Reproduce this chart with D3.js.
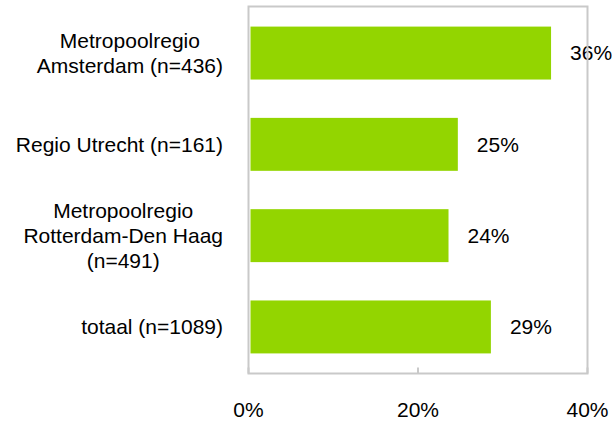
<!DOCTYPE html>
<html>
<head>
<meta charset="utf-8">
<script src="https://cdnjs.cloudflare.com/ajax/libs/d3/7.8.5/d3.min.js"></script>
<style>
  body { margin: 0; background: #fff; }
  svg { display: block; }
  text { font-family: "Liberation Sans", Arial, sans-serif; fill: #000; }
</style>
</head>
<body>
<svg id="chart"></svg>
<script>
var categories = [
    'Metropoolregio\nAmsterdam (n=436)',
    'Regio Utrecht (n=161)',
    'Metropoolregio\nRotterdam-Den Haag\n(n=491)',
    'totaal (n=1089)'
]
var values = [35.7, 24.7, 23.6, 28.6]
var ticks = [0, 20, 40]

var W = 612, H = 422
var plotL = 248.5, plotR = 587.5, plotT = 6.5, plotB = 373.5
var fontSize = 21, lineH = 25

var svg = d3.select('#chart').attr('width', W).attr('height', H)

var x = d3.scaleLinear().domain([0, 40]).range([plotL, plotR])
var y = d3.scaleBand().domain(categories).range([plotT, plotB])
    .paddingInner(0.42).paddingOuter(0.22)

// bars
svg.selectAll('rect.bar')
    .data(values)
    .enter()
    .append('rect')
    .attr('class', 'bar')
    .attr('x', x(0) + 2)
    .attr('y', (d, i) => y(categories[i]))
    .attr('width', d => x(d) - x(0) - 2)
    .attr('height', y.bandwidth())
    .attr('fill', '#93d500')

// value labels
svg.selectAll('text.val')
    .data(values)
    .enter()
    .append('text')
    .attr('class', 'val')
    .attr('x', d => x(d) + 19)
    .attr('y', (d, i) => y(categories[i]) + y.bandwidth() / 2)
    .attr('dy', '0.35em')
    .style('font-size', fontSize + 'px')
    .text(d => Math.round(d) + '%')

// frame
svg.append('rect')
    .attr('x', plotL).attr('y', plotT)
    .attr('width', plotR - plotL).attr('height', plotB - plotT)
    .attr('fill', 'none')
    .attr('stroke', '#c9c9c9')
    .attr('stroke-width', 2)

// small inner ticks on bottom
svg.selectAll('line.tick')
    .data(ticks)
    .enter()
    .append('line')
    .attr('x1', d => x(d)).attr('x2', d => x(d))
    .attr('y1', plotB).attr('y2', plotB - 6)
    .attr('stroke', '#c9c9c9')
    .attr('stroke-width', 2)

// tick labels
svg.selectAll('text.tick')
    .data(ticks)
    .enter()
    .append('text')
    .attr('x', d => x(d))
    .attr('y', 417)
    .style('font-size', fontSize + 'px')
    .style('text-anchor', 'middle')
    .text(d => d + '%')

// category labels, lines centred, block right aligned
svg.selectAll('g.cat')
    .data(categories)
    .enter()
    .append('g')
    .each(function (d) {
        var g = d3.select(this)
        var lines = d.split('\n')
        var cy = y(d) + y.bandwidth() / 2
        var t = g.append('text')
            .style('font-size', fontSize + 'px')
            .style('text-anchor', 'middle')
        lines.forEach((ln, j) => {
            t.append('tspan')
                .attr('y', cy + (j - (lines.length - 1) / 2) * lineH)
                .attr('dy', '0.35em')
                .text(ln)
        })
        var maxW = 0
        t.selectAll('tspan').each(function () {
            maxW = Math.max(maxW, this.getComputedTextLength())
        })
        t.selectAll('tspan').attr('x', 223 - maxW / 2)
    })
</script>
</body>
</html>
